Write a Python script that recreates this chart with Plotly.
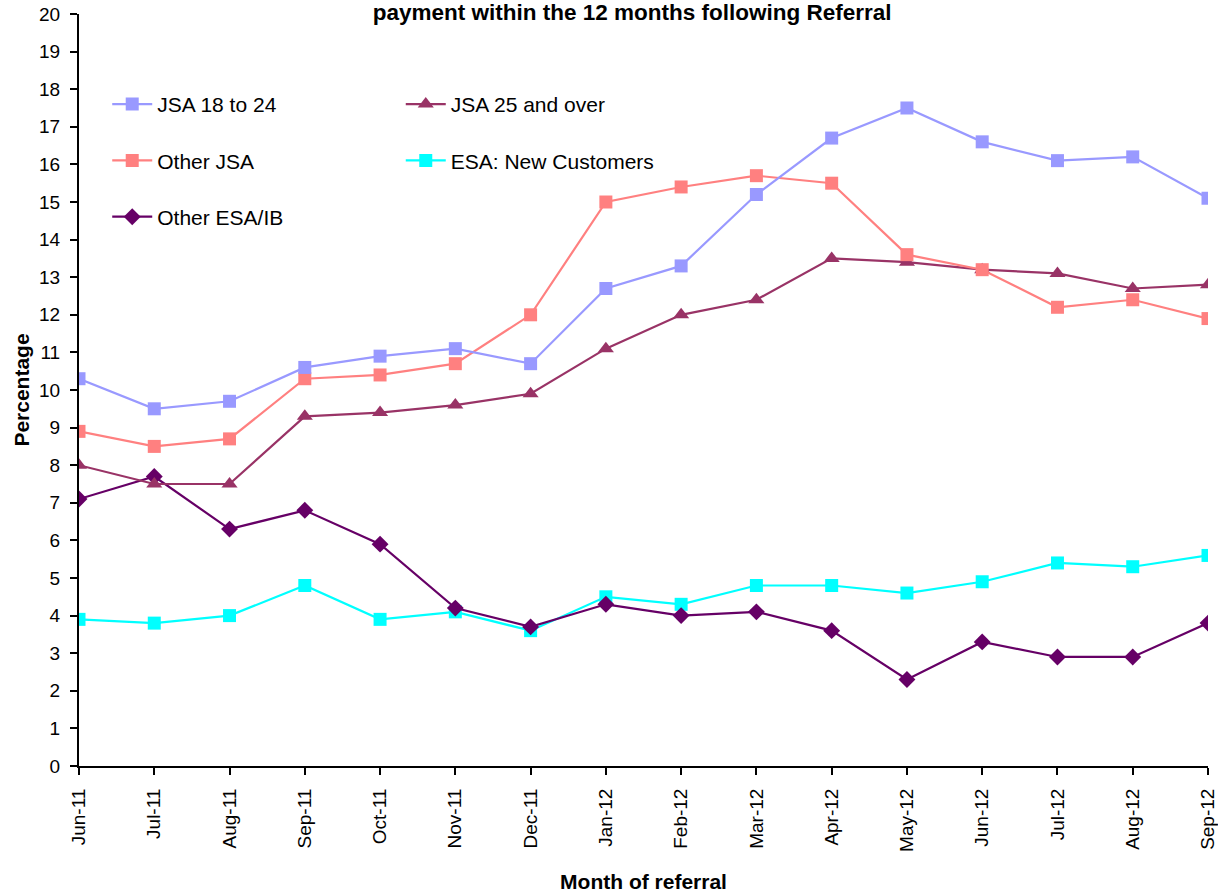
import plotly.graph_objects as go

months = ["Jun-11", "Jul-11", "Aug-11", "Sep-11", "Oct-11", "Nov-11", "Dec-11", "Jan-12",
          "Feb-12", "Mar-12", "Apr-12", "May-12", "Jun-12", "Jul-12", "Aug-12", "Sep-12"]
jsa_18_24 = [10.3, 9.5, 9.7, 10.6, 10.9, 11.1, 10.7, 12.7, 13.3, 15.2, 16.7, 17.5, 16.6, 16.1, 16.2, 15.1]
other_jsa = [8.9, 8.5, 8.7, 10.3, 10.4, 10.7, 12.0, 15.0, 15.4, 15.7, 15.5, 13.6, 13.2, 12.2, 12.4, 11.9]
jsa_25_over = [8.0, 7.5, 7.5, 9.3, 9.4, 9.6, 9.9, 11.1, 12.0, 12.4, 13.5, 13.4, 13.2, 13.1, 12.7, 12.8]
esa_new = [3.9, 3.8, 4.0, 4.8, 3.9, 4.1, 3.6, 4.5, 4.3, 4.8, 4.8, 4.6, 4.9, 5.4, 5.3, 5.6]
other_esa_ib = [7.1, 7.7, 6.3, 6.8, 5.9, 4.2, 3.7, 4.3, 4.0, 4.1, 3.6, 2.3, 3.3, 2.9, 2.9, 3.8]
y_ticks = list(range(0, 21))

series = [
    ("JSA 18 to 24", jsa_18_24, "#9999FF", "square", 13, "legend"),
    ("Other JSA", other_jsa, "#FF8080", "square", 13, "legend"),
    ("Other ESA/IB", other_esa_ib, "#660066", "diamond", 13, "legend"),
    ("JSA 25 and over", jsa_25_over, "#993366", "triangle-up", 14, "legend2"),
    ("ESA: New Customers", esa_new, "#00FFFF", "square", 13, "legend2"),
]

fig = go.Figure()
draw_order = [4, 2, 3, 1, 0]
for i in draw_order:
    name, vals, col, sym, size, leg = series[i]
    fig.add_trace(go.Scatter(
        x=months, y=vals, name=name, mode="lines+markers",
        line=dict(color=col, width=2.2),
        marker=dict(symbol=sym, size=size, color=col),
        legend=leg, legendgroup=name, legendrank=i,
    ))

font = dict(family="Liberation Sans, Arial, sans-serif", size=19, color="black")
fig.update_layout(
    width=1218, height=893,
    margin=dict(l=79, r=10, t=14, b=127),
    paper_bgcolor="white", plot_bgcolor="white",
    font=font,
    showlegend=True,
    title=dict(text="<b>payment within the 12 months following Referral</b>",
               x=0.519, xanchor="center", y=0.9865, yanchor="middle",
               font=dict(size=22.5)),
    xaxis=dict(
        type="category", range=[0, 15], tickangle=-90, automargin=False,
        showline=True, linecolor="black", linewidth=2,
        ticks="outside", ticklen=7, tickcolor="black", tickwidth=2,
        ticklabelstandoff=6,
        showgrid=False, zeroline=False,
        title=dict(text="<b>Month of referral</b>", standoff=28, font=dict(size=21)),
    ),
    yaxis=dict(
        range=[0, 20], tickvals=y_ticks, automargin=False,
        showline=True, linecolor="black", linewidth=2,
        ticks="outside", ticklen=7, tickcolor="black", tickwidth=2,
        ticklabelstandoff=6,
        showgrid=False, zeroline=False,
        title=dict(text="<b>Percentage</b>", standoff=4, font=dict(size=21)),
    ),
    legend=dict(x=0.025, y=0.907, xanchor="left", yanchor="top",
                bgcolor="rgba(0,0,0,0)", tracegroupgap=26, itemwidth=40,
                font=dict(size=21)),
    legend2=dict(x=0.285, y=0.907, xanchor="left", yanchor="top",
                 bgcolor="rgba(0,0,0,0)", tracegroupgap=26, itemwidth=40,
                 font=dict(size=21)),
)
fig.write_html("out.html", config={"displayModeBar": False},
               post_script="document.body.style.margin='0';")
